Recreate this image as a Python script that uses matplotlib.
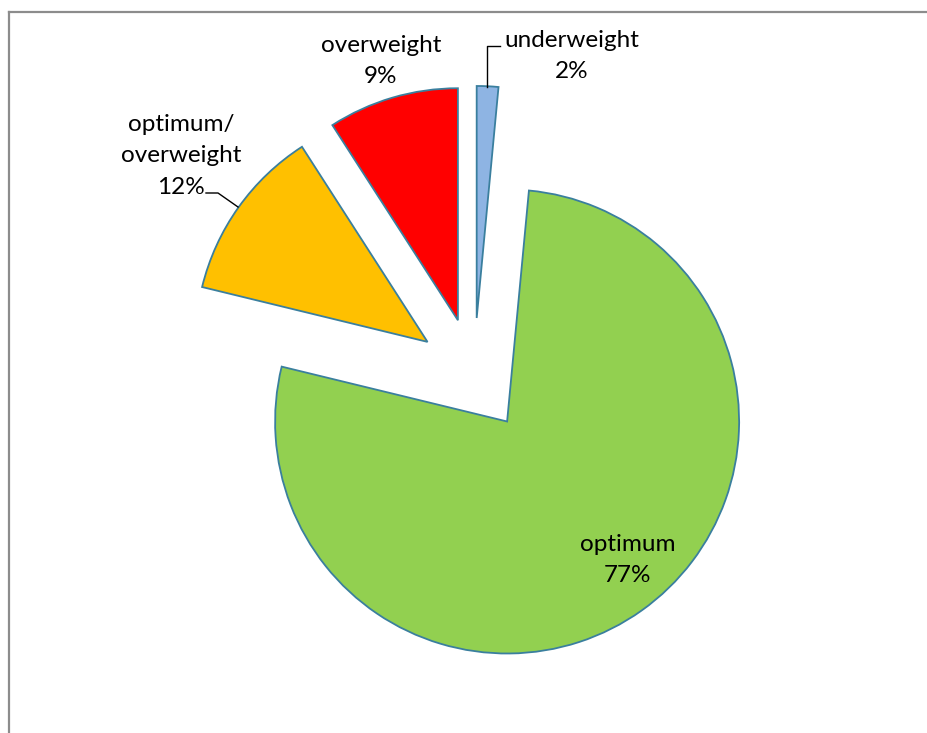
import matplotlib
matplotlib.use("Agg")
import matplotlib.pyplot as plt
from matplotlib.lines import Line2D

categories = ["underweight", "optimum", "optimum/\noverweight", "overweight"]
values = [1.5, 77.3, 12.1, 9.1]
pct_labels = ["2%", "77%", "12%", "9%"]
colors = ["#8EB4E3", "#92D050", "#FFC000", "#FF0000"]

W, H = 927, 733
fig = plt.figure(figsize=(W / 100, H / 100), dpi=100)
ax = fig.add_axes([0, 0, 1, 1])

cx, cy, R = 474, H - 375, 232
explode_frac = 0.246
wedges, _ = ax.pie(values, colors=colors, startangle=90, counterclock=False,
                   radius=R, center=(cx, cy), explode=[explode_frac * R] * 4,
                   wedgeprops=dict(edgecolor="#3A7F9E", linewidth=1.3),
                   frame=True)
ax.set_xlim(0, W)
ax.set_ylim(0, H)
ax.set_aspect("equal")
ax.axis("off")

# chart frame
fig.add_artist(Line2D([8.5 / W, 8.5 / W], [0, 1 - 11.5 / H], transform=fig.transFigure,
                      color="#8C8C8C", lw=1.6))
fig.add_artist(Line2D([8.5 / W, 1], [1 - 11.5 / H, 1 - 11.5 / H], transform=fig.transFigure,
                      color="#8C8C8C", lw=1.6))

font = dict(family=["Lato", "DejaVu Sans"], fontsize=17.5, color="black",
            ha="center", va="center", linespacing=1.62)

def py(y):
    return H - y

ax.text(572, py(56), f"{categories[0]}\n{pct_labels[0]}", **font)
ax.text(381, py(61), f"{categories[3]}\n{pct_labels[3]}", **font)
ax.text(181, py(156), f"{categories[2]}\n{pct_labels[2]}", **font)
ax.text(628, py(560), f"{categories[1]}\n{pct_labels[1]}", **font)

# leader lines
ax.plot([487, 487, 500], [py(87), py(46), py(46)], color="black", lw=1.0)
ax.plot([206, 218, 238], [py(193), py(193), py(207)], color="black", lw=1.0)

fig.savefig("out.png", dpi=100)
